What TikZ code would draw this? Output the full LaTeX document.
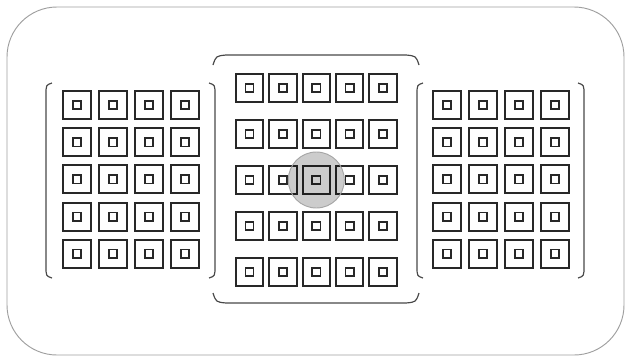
\documentclass[tikz,border=0pt]{standalone}
\usetikzlibrary{positioning}
\definecolor{ink}{RGB}{40,40,40}

\begin{document}
\begin{tikzpicture}[x=0.03cm,y=-0.03cm,
    afbox/.style={draw=ink, line width=1.8pt, minimum size=0.84cm, inner sep=0pt},
    afdot/.style={draw=ink, line width=1.4pt, minimum size=0.25cm, inner sep=0pt},
    brk/.style={draw=ink!85, line width=1pt},
    spot/.style={circle, draw=black!35, line width=0.8pt, fill=black, fill opacity=0.2,
      minimum size=1.68cm, inner sep=0pt}]
  \useasboundingbox (0,0) rectangle (627,357);
  \draw[gray!75, line width=0.8pt, rounded corners=1.5cm] (7,7) rectangle (624,355);
  % side groups, 4 x 5 each
  \foreach \c in {0,...,3}
    \foreach \r in {0,...,4} {
      \node[afbox] (L\c\r) at (77+36*\c, 105+37.2*\r) {};
      \node[afdot] (L\c\r d) at (L\c\r.center) {};
      \node[afbox] (R\c\r) at (447+36*\c, 105+37.2*\r) {};
      \node[afdot] (R\c\r d) at (R\c\r.center) {};
    }
  % centre group, 5 x 5
  \foreach \c in {0,...,4}
    \foreach \r in {0,...,4} {
      \node[afbox, minimum size=0.82cm] (C\c\r) at (249.5+33.4*\c, 88+46*\r) {};
      \node[afdot] (C\c\r d) at (C\c\r.center) {};
    }
  % brackets round the side groups
  \draw[brk] (52,83) .. controls (46,85) .. (46,95) -- (46,266) .. controls (46,276) .. (52,278);
  \draw[brk] (209,83) .. controls (215,85) .. (215,95) -- (215,266) .. controls (215,276) .. (209,278);
  \draw[brk] (423,83) .. controls (417,85) .. (417,95) -- (417,266) .. controls (417,276) .. (423,278);
  \draw[brk] (578,83) .. controls (584,85) .. (584,95) -- (584,266) .. controls (584,276) .. (578,278);
  % top and bottom of the centre group
  \draw[brk] (213,65) .. controls (216,56) .. (226,55) -- (406,55) .. controls (416,56) .. (419,65);
  \draw[brk] (213,293) .. controls (216,302) .. (226,303) -- (406,303) .. controls (416,302) .. (419,293);
  % selected point
  \node[spot] (spot) at (C22) {};
\end{tikzpicture}
\end{document}
